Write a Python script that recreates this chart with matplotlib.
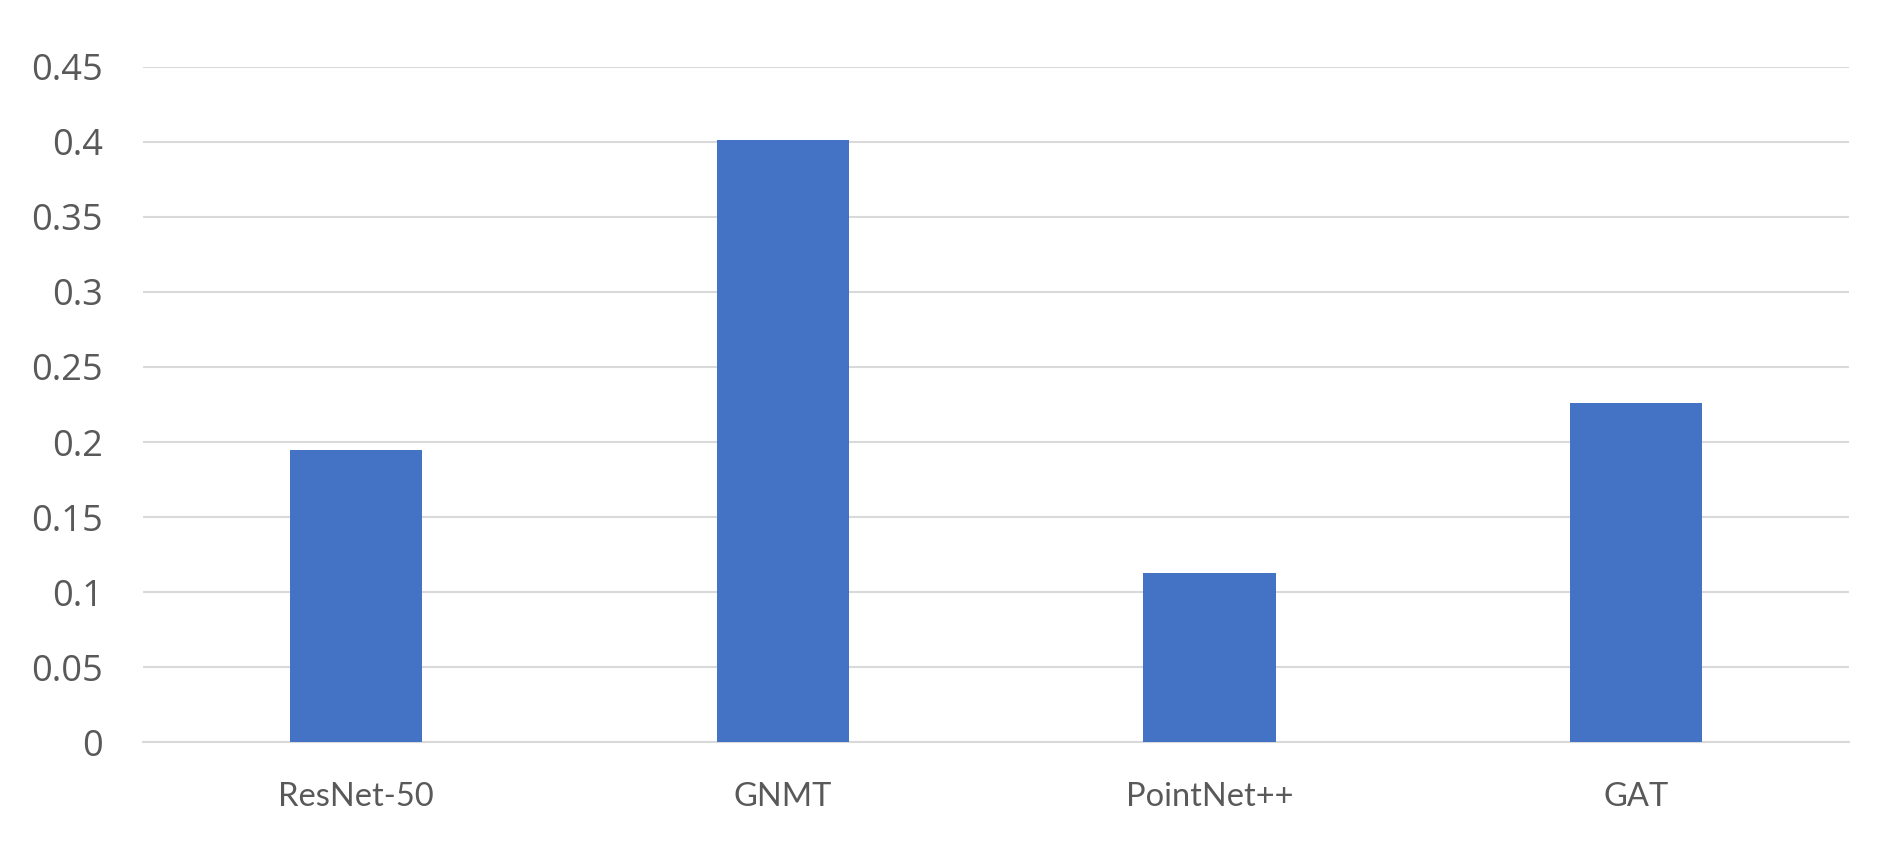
import matplotlib
matplotlib.use("Agg")
import matplotlib.pyplot as plt

categories = ["ResNet-50", "GNMT", "PointNet++", "GAT"]
values = [0.195, 0.401, 0.113, 0.226]
yticks = [0, 0.05, 0.1, 0.15, 0.2, 0.25, 0.3, 0.35, 0.4, 0.45]
ytick_labels = ["0", "0.05", "0.1", "0.15", "0.2", "0.25", "0.3", "0.35", "0.4", "0.45"]

plt.rcParams['font.family'] = ['Lato', 'DejaVu Sans']

fig = plt.figure(figsize=(18.99, 8.6), dpi=100)
ax = fig.add_axes([0.0753, 0.1367, 0.8986, 0.7859])

x = list(range(len(categories)))
ax.bar(x, values, width=0.31, color="#4472C4", zorder=3)

ax.set_xlim(-0.5, len(categories) - 0.5)
ax.set_ylim(0, 0.45)
ax.set_yticks(yticks)
ax.set_yticklabels(ytick_labels, family=["Open Sans", "DejaVu Sans"], fontsize=26)
ax.set_xticks(x)
ax.set_xticklabels(categories, family=["Lato", "DejaVu Sans"], fontsize=23.5)

ax.yaxis.grid(True, color="#d9d9d9", linewidth=1.5, zorder=0)
ax.set_axisbelow(True)
for s in ["top", "right", "left"]:
    ax.spines[s].set_visible(False)
ax.spines["bottom"].set_color("#d9d9d9")
ax.spines["bottom"].set_linewidth(1.5)
ax.tick_params(axis="both", length=0, labelcolor="#595959")
ax.tick_params(axis="y", pad=29)
ax.tick_params(axis="x", pad=28.5)

fig.savefig("out.png", dpi=100)
